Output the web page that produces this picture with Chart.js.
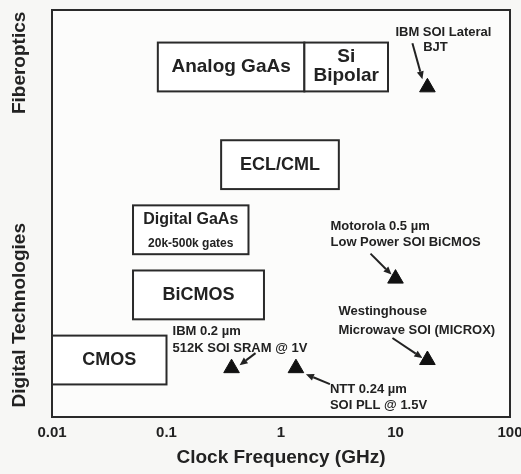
<!DOCTYPE html>
<html>
<head>
<meta charset="utf-8"/>
<title>Clock Frequency by Technology</title>
<script src="https://cdn.jsdelivr.net/npm/chart.js"></script>
<style>
html, body{ margin:0; padding:0; background:#f7f7f5; }
#chart{ display:block; }
</style>
</head>
<body>
<canvas id="chart" width="521" height="474"></canvas>
<script>
// x = clock frequency (GHz), y = position on a 0-100 band scale
const bandLabels = ['Digital Technologies', 'Fiberoptics'];
const bandCenters = [25, 87];

const techNames = [['Analog GaAs'], ['Si', 'Bipolar'], ['ECL/CML'], ['Digital GaAs', '20k-500k gates'], ['BiCMOS'], ['CMOS']];
const techFreqLow  = [0.084, 1.6, 0.3, 0.051, 0.051, 0.01];
const techFreqHigh = [1.6, 8.6, 3.2, 0.52, 0.71, 0.1];
const techBandLow  = [80, 80, 56, 40, 24, 8];
const techBandHigh = [92, 92, 68, 52, 36, 20];

const soiNames = [
  ['IBM SOI Lateral', 'BJT'],
  ['Motorola 0.5 \u00b5m', 'Low Power SOI BiCMOS'],
  ['Westinghouse', 'Microwave SOI (MICROX)'],
  ['NTT 0.24 \u00b5m', 'SOI PLL @ 1.5V'],
  ['IBM 0.2 \u00b5m', '512K SOI SRAM @ 1V']
];
const soiFreq = [19, 10, 19, 1.35, 0.37];
const soiBand = [81, 34, 14, 12, 12];

const xTicks = [0.01, 0.1, 1, 10, 100];

// layout of the labels (pixels)
const techLabelSizes = [[19], [19, 19], [18], [16, 12], [18], [18]];
const techLabelDy = [[0], [-10, 9], [0], [-10, 14], [0], [0]];
// per note: text lines [dx, dy], align, arrow start and end offsets from the marker
const noteLines = [
  [[16, -55], [8, -40]],
  [[-65, -52], [-65, -36]],
  [[-89, -49], [-89, -30]],
  [[34, 21], [34, 37]],
  [[-59, -37], [-59, -20]]
];
const noteAlign = ['center', 'left', 'left', 'left', 'left'];
const noteArrows = [
  [[-15, -44], [-5, -8]],
  [[-25, -25], [-4, -4]],
  [[-35, -22], [-5, -2]],
  [[34, 16], [10, 6]],
  [[24, -15], [8, -3]]
];

const ink = '#222';
const font = 'Liberation Sans, Arial, Helvetica, sans-serif';

function arrow(ctx, x0, y0, x1, y1){
  const ang = Math.atan2(y1 - y0, x1 - x0);
  const hl = 8, hw = 3.5;
  const bx = x1 - hl * Math.cos(ang), by = y1 - hl * Math.sin(ang);
  ctx.beginPath();
  ctx.moveTo(x0, y0);
  ctx.lineTo(bx, by);
  ctx.stroke();
  ctx.beginPath();
  ctx.moveTo(x1, y1);
  ctx.lineTo(bx + hw * Math.sin(ang), by - hw * Math.cos(ang));
  ctx.lineTo(bx - hw * Math.sin(ang), by + hw * Math.cos(ang));
  ctx.closePath();
  ctx.fill();
}

const techMap = {
  id: 'techMap',
  beforeDatasetsDraw(chart){
    const {ctx, chartArea: a, scales: {x, y}} = chart;
    ctx.save();
    ctx.fillStyle = '#fcfcfb';
    ctx.fillRect(a.left, a.top, a.width, a.height);

    ctx.lineWidth = 2;
    ctx.strokeStyle = '#2a2a2a';
    for(let i = 0; i < techNames.length; i++){
      const x0 = x.getPixelForValue(techFreqLow[i]);
      const x1 = x.getPixelForValue(techFreqHigh[i]);
      const y0 = y.getPixelForValue(techBandHigh[i]);
      const y1 = y.getPixelForValue(techBandLow[i]);
      ctx.fillStyle = '#fff';
      ctx.fillRect(x0, y0, x1 - x0, y1 - y0);
      ctx.strokeRect(x0, y0, x1 - x0, y1 - y0);
      ctx.fillStyle = ink;
      ctx.textAlign = 'center';
      ctx.textBaseline = 'middle';
      techNames[i].forEach((t, j) => {
        ctx.font = 'bold ' + techLabelSizes[i][j] + 'px ' + font;
        ctx.fillText(t, (x0 + x1) / 2, (y0 + y1) / 2 + techLabelDy[i][j]);
      });
    }

    ctx.strokeRect(a.left, a.top, a.width, a.height);

    ctx.font = 'bold 19px ' + font;
    ctx.fillStyle = ink;
    ctx.textAlign = 'center';
    bandLabels.forEach((t, i) => {
      ctx.save();
      ctx.translate(20, y.getPixelForValue(bandCenters[i]));
      ctx.rotate(-Math.PI / 2);
      ctx.fillText(t, 0, 0);
      ctx.restore();
    });
    ctx.restore();
  },
  afterDatasetsDraw(chart){
    const {ctx, scales: {x, y}} = chart;
    ctx.save();
    ctx.fillStyle = ink;
    ctx.strokeStyle = ink;
    ctx.lineWidth = 2;
    ctx.font = 'bold 13px ' + font;
    ctx.textBaseline = 'middle';
    soiNames.forEach((lines, i) => {
      const px = x.getPixelForValue(soiFreq[i]);
      const py = y.getPixelForValue(soiBand[i]);
      ctx.textAlign = noteAlign[i];
      lines.forEach((t, j) => {
        ctx.fillText(t, px + noteLines[i][j][0], py + noteLines[i][j][1]);
      });
      const s = noteArrows[i][0], e = noteArrows[i][1];
      arrow(ctx, px + s[0], py + s[1], px + e[0], py + e[1]);
    });
    ctx.restore();
  }
};

new Chart(document.getElementById('chart'), {
  type: 'scatter',
  data: {
    datasets: [{
      data: soiFreq.map((f, i) => ({x: f, y: soiBand[i]})),
      pointStyle: 'triangle',
      pointRadius: 9,
      backgroundColor: '#111',
      borderColor: '#111',
      borderWidth: 1
    }]
  },
  options: {
    responsive: false,
    animation: false,
    layout: {padding: {left: 52, right: 11, top: 5, bottom: 0}},
    plugins: {legend: {display: false}, tooltip: {enabled: false}},
    scales: {
      x: {
        type: 'logarithmic',
        min: 0.01,
        max: 100,
        afterBuildTicks: s => { s.ticks = xTicks.map(v => ({value: v})); },
        afterFit: s => { s.height = 57; s.paddingLeft = 0; s.paddingRight = 0; },
        grid: {display: false, drawTicks: false},
        border: {display: false},
        ticks: {
          autoSkip: false,
          maxRotation: 0,
          padding: 7,
          color: ink,
          font: {family: font, size: 15, weight: 'bold'},
          callback: v => String(v)
        },
        title: {
          display: true,
          text: 'Clock Frequency (GHz)',
          color: ink,
          font: {family: font, size: 19, weight: 'bold'},
          padding: {top: 0, bottom: 5}
        }
      },
      y: {display: false, min: 0, max: 100}
    }
  },
  plugins: [techMap]
});
</script>
</body>
</html>
